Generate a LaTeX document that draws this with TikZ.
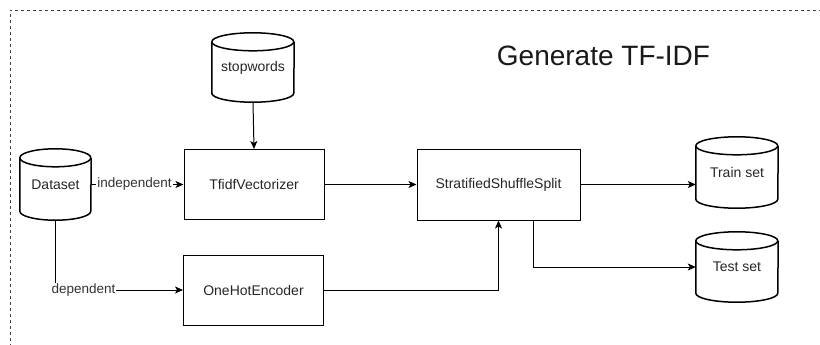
\documentclass[tikz,border=0pt]{standalone}
\usepackage{fontspec}
\setmainfont{Liberation Sans}
\usetikzlibrary{arrows.meta}

\tikzset{
  px/.style={x=1pt,y=-1pt},
  proc/.style={draw, line width=1pt, rectangle, inner sep=0pt,
    minimum width=140pt, minimum height=70pt,
    font=\fontsize{14}{16}\selectfont, text=black!85},
  store/.style={rectangle, inner sep=0pt, draw=none,
    font=\fontsize{14}{16}\selectfont, text=black!85},
  cylline/.style={line width=1.5pt, line join=round},
  flow/.style={line width=1pt, -{Stealth[length=8pt,width=7pt,inset=2pt]}},
  lbl/.style={fill=white, inner sep=1pt, font=\fontsize{13.5}{15}\selectfont, text=black!80},
  frame/.style={draw=black!75, line width=0.8pt, dash pattern=on 3pt off 3pt},
}

% outline of a database cylinder around a named node
% #1 node, #2 half width, #3 vertical radius of the end ellipses
\newcommand\dbcylinder[3]{%
  \draw[cylline] ([yshift=-#3]#1.north west)
    arc[start angle=180,end angle=540,x radius=#2,y radius=#3];
  \draw[cylline] ([yshift=-#3]#1.north west) -- ([yshift=#3]#1.south west)
    arc[start angle=180,end angle=360,x radius=#2,y radius=#3]
    -- ([yshift=-#3]#1.north east);
}

\begin{document}
\begin{tikzpicture}[px]
\useasboundingbox (0,0) rectangle (820,345);

% dashed group border
\coordinate (fr-tr) at (822,10);
\coordinate (fr-tl) at (10,10);
\coordinate (fr-bl) at (10,347);
\draw[frame] (fr-tr) -- (fr-tl) -- (fr-bl);

% title
\node[font=\fontsize{28}{32}\selectfont, text=black!90] (title) at (603.5,56) {Generate TF-IDF};

% data stores
\node[store, minimum width=71pt, minimum height=71pt] (ds) at (55.5,184.5) {Dataset};
\dbcylinder{ds}{35.5pt}{9pt}
\node[store, minimum width=82pt, minimum height=69pt] (sw) at (253,67.5) {stopwords};
\dbcylinder{sw}{41pt}{9pt}
\node[store, minimum width=82pt, minimum height=71pt] (train) at (737,172.5) {Train set};
\dbcylinder{train}{41pt}{9pt}
\node[store, minimum width=82pt, minimum height=70pt] (test) at (737,267) {Test set};
\dbcylinder{test}{41pt}{9pt}

% processing steps
\node[proc] (tfidf) at (254,184.5) {TfidfVectorizer};
\node[proc] (ohe) at (253.5,290) {OneHotEncoder};
\node[proc, minimum width=163pt, minimum height=71pt] (sss) at (498.5,184.5) {StratifiedShuffleSplit};

% connectors
\draw[flow] (sw.south) -- (tfidf.north);
\draw[flow] (ds.east) -- node[lbl, pos=0.47] {independent} (tfidf.west);
\draw[flow] (ds.south) |- node[lbl, pos=0.61] {dependent} (ohe.west);
\draw[flow] (tfidf.east) -- (sss.west);
\draw[flow] (ohe.east) -| (sss.south);
\draw[flow] (sss.east) -- (sss.east -| train.west);
\draw[flow] ([xshift=34.5pt]sss.south) |- (test.west);
\end{tikzpicture}
\end{document}
